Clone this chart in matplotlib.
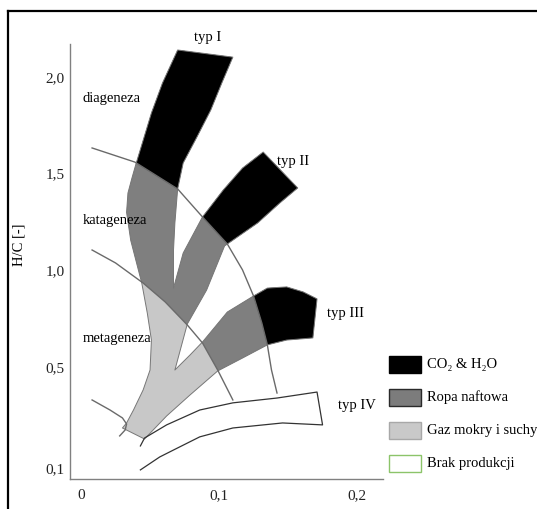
"""Diagram van Krevelena - typy kerogenu."""

import matplotlib
matplotlib.use("Agg")
import matplotlib.pyplot as plt
from matplotlib.patches import Polygon, Rectangle
from matplotlib.lines import Line2D

plt.rcParams["font.family"] = ["Liberation Serif", "DejaVu Serif"]

# outline of the kerogen "tree" (O/C, H/C), clockwise from top of typ I
tree_oc = [0.070, 0.110, 0.102, 0.094, 0.084, 0.074, 0.070, 0.068, 0.067, 0.067,
           0.074, 0.088, 0.103, 0.117, 0.132, 0.157, 0.144, 0.128, 0.104,
           0.091, 0.077, 0.068, 0.079, 0.088, 0.106, 0.125, 0.135, 0.149,
           0.161, 0.171, 0.168, 0.149, 0.135, 0.117, 0.099, 0.079, 0.062,
           0.046, 0.030, 0.033, 0.038, 0.045, 0.050, 0.051, 0.048, 0.044,
           0.036, 0.033, 0.034, 0.037, 0.040, 0.051, 0.059]
tree_hc = [2.140, 2.103, 1.969, 1.829, 1.690, 1.555, 1.421, 1.245, 1.105, 0.908,
           1.089, 1.276, 1.415, 1.529, 1.612, 1.426, 1.348, 1.245, 1.126,
           0.898, 0.722, 0.484, 0.562, 0.629, 0.784, 0.867, 0.908, 0.914,
           0.888, 0.852, 0.650, 0.639, 0.614, 0.546, 0.479, 0.355, 0.246,
           0.127, 0.184, 0.210, 0.277, 0.381, 0.484, 0.639, 0.779, 0.934,
           1.155, 1.300, 1.400, 1.480, 1.555, 1.814, 1.969]

# typ IV band (open at the left end)
typ4_oc = [0.043, 0.046, 0.062, 0.086, 0.110, 0.142, 0.171, 0.175, 0.146,
           0.110, 0.086, 0.067, 0.057, 0.043]
typ4_hc = [0.091, 0.132, 0.200, 0.277, 0.314, 0.339, 0.370, 0.200, 0.210,
           0.184, 0.138, 0.070, 0.034, -0.033]

# boundaries: diageneza/katageneza, katageneza/metageneza, metageneza bottom
arcA_oc = [0.008, 0.039, 0.070, 0.088, 0.106, 0.117, 0.125, 0.131, 0.135, 0.138, 0.142]
arcA_hc = [1.633, 1.560, 1.421, 1.276, 1.136, 1.002, 0.867, 0.727, 0.614, 0.484, 0.365]
arcB_oc = [0.008, 0.025, 0.045, 0.061, 0.077, 0.088, 0.099, 0.110]
arcB_hc = [1.105, 1.038, 0.934, 0.836, 0.717, 0.624, 0.484, 0.329]
arcC_oc = [0.008, 0.021, 0.030, 0.033, 0.032, 0.028]
arcC_hc = [0.329, 0.277, 0.236, 0.205, 0.174, 0.143]

stage_names = ["diageneza", "katageneza", "metageneza"]
stage_hc = [1.891, 1.260, 0.645]
type_names = ["typ I", "typ II", "typ III", "typ IV"]
type_oc = [0.092, 0.142, 0.178, 0.186]
type_hc = [2.207, 1.565, 0.779, 0.298]

xticks = [0.0, 0.1, 0.2]
xtick_labels = ["0", "0,1", "0,2"]
# lowest tick is squeezed in the original drawing
yticks = [2.0, 1.5, 1.0, 0.5, -0.023]
ytick_labels = ["2,0", "1,5", "1,0", "0,5", "0,1"]

legend_labels = ["CO\u2082 & H\u2082O", "Ropa naftowa", "Gaz mokry i suchy", "Brak produkcji"]
legend_face = ["#000000", "#7c7c7c", "#c9c9c9", "#ffffff"]
legend_edge = ["#000000", "#2a2a2a", "#a8a8a8", "#8cc46a"]

c_dark = "#7f7f7f"
c_light = "#c8c8c8"
c_line = "#6a6a6a"

fig = plt.figure(figsize=(5.37, 5.09), dpi=100)
ax = fig.add_axes([70 / 537, 30 / 509, 313 / 537, 435 / 509])
ax.set_xlim(-0.008, 0.2188)
ax.set_ylim(-0.080, 2.171)

tree_xy = list(zip(tree_oc, tree_hc))
ax.add_patch(Polygon(tree_xy, closed=True, facecolor=c_light, edgecolor="none", zorder=2))

# regions beyond each boundary arc
far = [(0.30, -0.2), (0.30, 2.6), (0.008, 2.6)]
clipB = Polygon(list(zip(arcB_oc, arcB_hc)) + [(arcB_oc[-1], -0.2)] + far,
                closed=True, transform=ax.transData)
clipA = Polygon(list(zip(arcA_oc, arcA_hc)) + [(arcA_oc[-1], -0.2)] + far,
                closed=True, transform=ax.transData)

dark = Polygon(tree_xy, closed=True, facecolor=c_dark, edgecolor="none", zorder=3)
ax.add_patch(dark)
dark.set_clip_path(clipB)
black = Polygon(tree_xy, closed=True, facecolor="black", edgecolor="none", zorder=4)
ax.add_patch(black)
black.set_clip_path(clipA)

ax.add_patch(Polygon(tree_xy, closed=True, facecolor="none", edgecolor="#777777",
                     linewidth=0.7, joinstyle="round", zorder=5))

for xs, ys in [(arcA_oc, arcA_hc), (arcB_oc, arcB_hc), (arcC_oc, arcC_hc)]:
    ax.plot(xs, ys, color=c_line, linewidth=1.0, zorder=6, clip_on=False)
ax.plot(typ4_oc, typ4_hc, color="#333333", linewidth=0.9, zorder=6, clip_on=False)

for name, hc in zip(stage_names, stage_hc):
    ax.text(0.0014, hc, name, fontsize=10.5, ha="left", va="center", zorder=7)
for name, oc, hc in zip(type_names, type_oc, type_hc):
    ha = "center" if name == "typ I" else "left"
    ax.text(oc, hc, name, fontsize=10.5, ha=ha, va="center", zorder=7, clip_on=False)

ax.set_xticks(xticks)
ax.set_xticklabels(xtick_labels)
ax.set_yticks(yticks)
ax.set_yticklabels(ytick_labels)
ax.tick_params(length=0, labelsize=11, colors="#222222")
ax.tick_params(axis="x", pad=7)
ax.tick_params(axis="y", pad=4)
for s in ["top", "right"]:
    ax.spines[s].set_visible(False)
for s in ["left", "bottom"]:
    ax.spines[s].set_color("#808080")
    ax.spines[s].set_linewidth(1.0)
ax.set_ylabel("H/C [-]", fontsize=10.5)
ax.yaxis.set_label_coords(-0.141, 0.538)

# legend drawn by hand at the right
for i, (lab, fc, ec) in enumerate(zip(legend_labels, legend_face, legend_edge)):
    yc = (509 - (364.5 + 33 * i)) / 509
    fig.add_artist(Rectangle((389 / 537, yc - 8.5 / 509), 32 / 537, 17 / 509,
                             transform=fig.transFigure, facecolor=fc, edgecolor=ec,
                             linewidth=1.0))
    fig.text(427 / 537, yc, lab, fontsize=10.5, ha="left", va="center")

# frame around the figure (open towards the bottom and right)
fig.add_artist(Line2D([8 / 537, 8 / 537], [0, 498 / 509], color="black",
                      linewidth=1.6, transform=fig.transFigure))
fig.add_artist(Line2D([8 / 537, 1.0], [498 / 509, 498 / 509], color="black",
                      linewidth=1.6, transform=fig.transFigure))

fig.savefig("out.png", dpi=100)
